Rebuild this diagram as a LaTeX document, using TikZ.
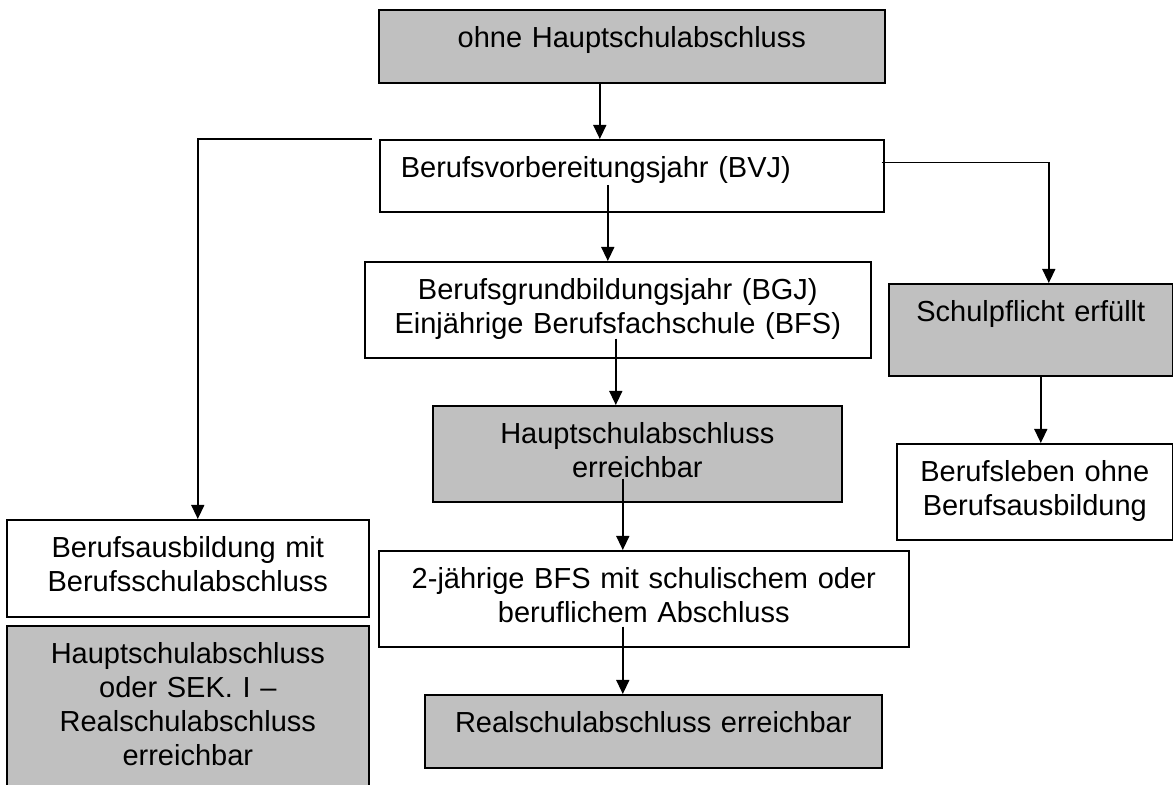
\documentclass[tikz,border=0pt]{standalone}
\usepackage{fontspec}
\setmainfont{Liberation Sans}
\usetikzlibrary{arrows.meta}
\definecolor{boxgray}{RGB}{192,192,192}

\begin{document}
\begin{tikzpicture}[x=0.5pt, y=-0.5pt, font=\fontsize{14.5}{17}\selectfont] % Coordinates in pixels of the page
\tikzstyle{box} = [draw=black, line width=0.8pt, anchor=north west, inner sep=0pt, align=center, text height=19pt]
\tikzstyle{whitebox} = [box, fill=white]
\tikzstyle{graybox} = [box, fill=boxgray]
\tikzstyle{arrow} = [-{Triangle[width=6.5pt, length=7pt]}, line width=0.7pt, draw=black]

\useasboundingbox (0,0) rectangle (1173,785);

% Start and the first school year
\node[graybox, text width=253pt, text depth=17.5pt] (Ohne) at (378,9) {ohne Hauptschulabschluss};
\node[whitebox, text width=231pt, inner xsep=10.5pt, align=left, text depth=17pt] (BVJ) at (379,139) {Berufsvorbereitungsjahr (BVJ)};

% Middle column
\node[whitebox, text width=253pt, text depth=29pt] (BGJ) at (364,261) {Berufsgrundbildungsjahr (BGJ)\\Einjährige Berufsfachschule (BFS)};
\node[graybox, text width=204.5pt, text depth=29pt] (HSA) at (432,405) {Hauptschulabschluss\\erreichbar};
\node[whitebox, text width=265pt, text depth=29pt] (BFS) at (378,550) {2-jährige BFS mit schulischem oder\\beruflichem Abschluss};
\node[graybox, text width=228.5pt, text depth=17.5pt] (RSA) at (424,694) {Realschulabschluss erreichbar};

% Right column
\node[graybox, text width=142pt, text depth=27pt] (Pflicht) at (888,283) {Schulpflicht erfüllt};
\node[whitebox, text width=138pt, text depth=29pt] (Leben) at (896,443) {Berufsleben ohne\\Berufsausbildung};

% Left column
\node[whitebox, text width=181pt, text depth=29.5pt] (Ausbildung) at (6,519) {Berufsausbildung mit\\Berufsschulabschluss};
\node[graybox, text width=181pt, text depth=64pt] (SekI) at (6,625) {Hauptschulabschluss\\oder SEK. I --\\Realschulabschluss\\erreichbar};

% Draw arrows between the boxes
\draw[arrow] ([xshift=-16pt]Ohne.south) -- ([xshift=-16pt]Ohne.south |- BVJ.north);
\draw[arrow] ([xshift=-12pt, yshift=-23pt]BVJ.north) -- ([xshift=-12pt]BVJ.north |- BGJ.north);
\draw[arrow] ([xshift=-3.5pt]BVJ.north west) -| ([xshift=5pt]Ausbildung.north);
\draw[arrow] ([xshift=-1.5pt, yshift=6.5pt]BVJ.east) -| ([xshift=9pt]Pflicht.north);

\draw[arrow] ([xshift=-1pt, yshift=10pt]BGJ.south) -- ([xshift=-1pt]BGJ.south |- HSA.north);
\draw[arrow] ([xshift=-7.25pt, yshift=12pt]HSA.south) -- ([xshift=-7.25pt]HSA.south |- BFS.north);
\draw[arrow] ([xshift=-10.5pt, yshift=10.5pt]BFS.south) -- ([xshift=-10.5pt]BFS.south |- RSA.north);

\draw[arrow] ([xshift=5pt]Pflicht.south) -- ([xshift=5pt]Pflicht.south |- Leben.north);

\end{tikzpicture}
\end{document}
